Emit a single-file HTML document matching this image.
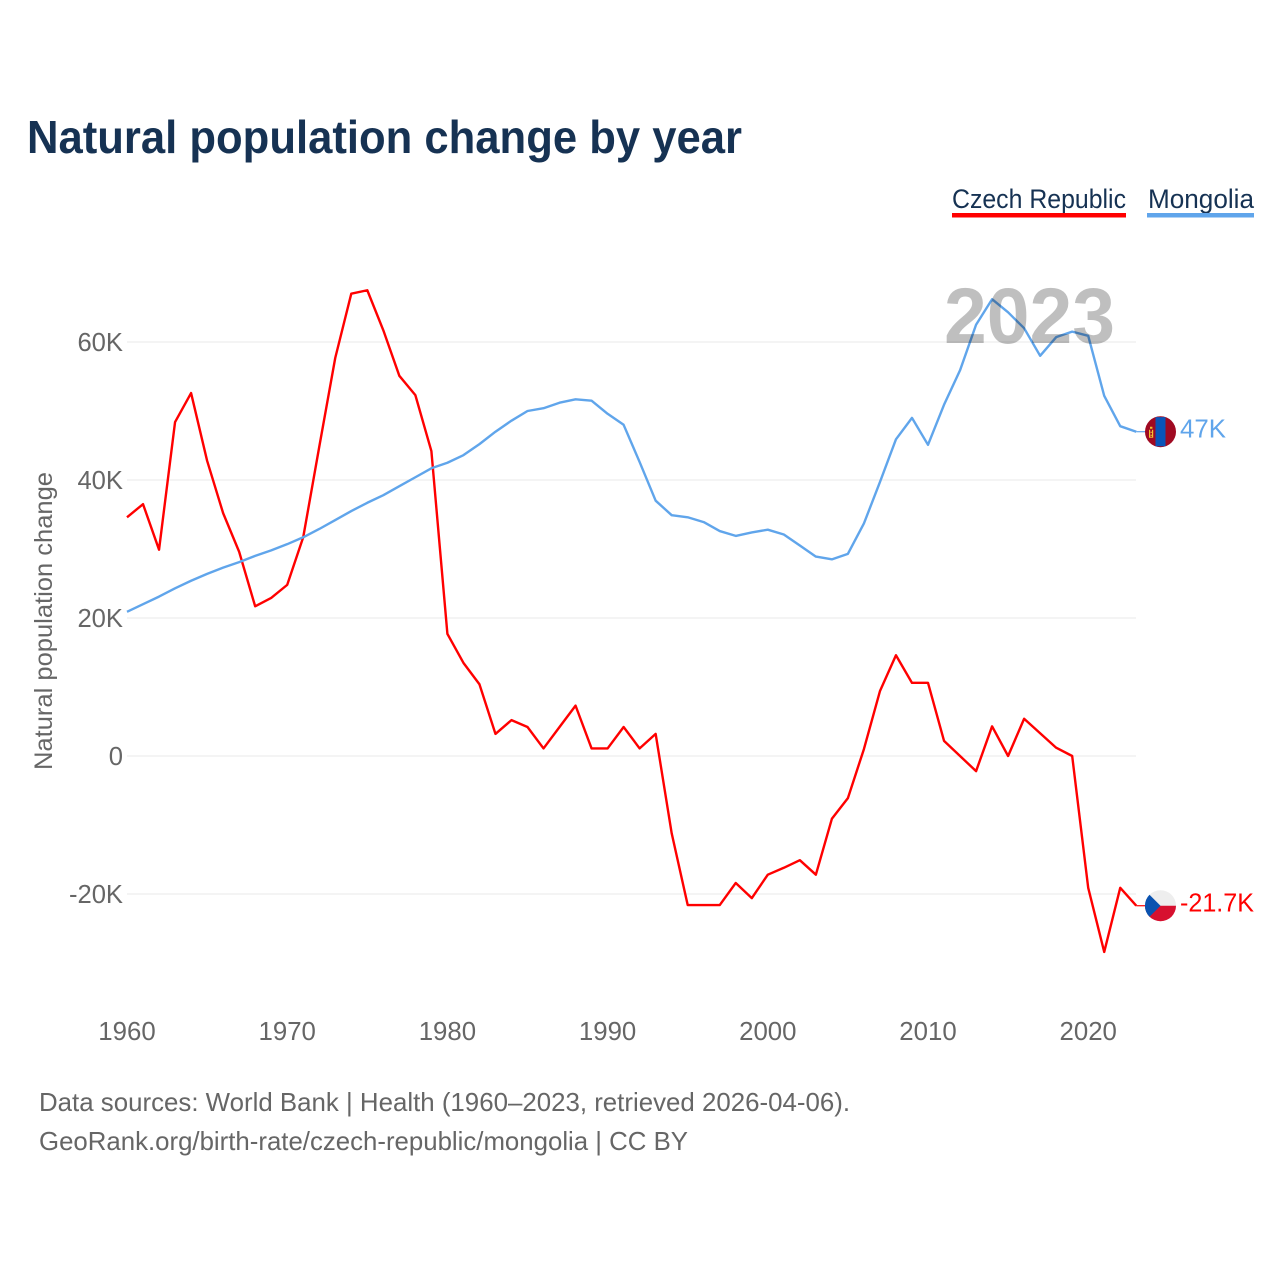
<!DOCTYPE html>
<html lang="en">
<head>
<meta charset="utf-8">
<title>Natural population change by year</title>
<style>
html,body{margin:0;padding:0;background:#fff;}
svg{display:block;font-family:"Liberation Sans",sans-serif;}
</style>
</head>
<body>
<svg id="chart" xmlns="http://www.w3.org/2000/svg" width="1280" height="1280" viewBox="0 0 1280 1280">
  <rect width="1280" height="1280" fill="#fff"/>
  <text x="27" y="153" font-size="46" font-weight="700" fill="#163253" textLength="715" lengthAdjust="spacingAndGlyphs">Natural population change by year</text>
  <g>
    <g>
      <text x="952" y="208" font-size="27" fill="#163253" textLength="174" lengthAdjust="spacingAndGlyphs">Czech Republic</text>
      <rect x="952" y="213" width="174" height="4.5" fill="#ff0000"/>
    </g>
    <g>
      <text x="1148" y="208" font-size="27" fill="#163253" textLength="106" lengthAdjust="spacingAndGlyphs">Mongolia</text>
      <rect x="1147" y="213" width="107" height="4.5" fill="#60a5eb"/>
    </g>
  </g>
  <g id="grid"></g>
  <g id="yAxis"></g>
  <g id="xAxis"></g>
  <text transform="translate(52,621) rotate(-90)" text-anchor="middle" font-size="25" fill="#666" textLength="298" lengthAdjust="spacingAndGlyphs">Natural population change</text>
  <g id="series"></g>
  <text x="944" y="343" font-size="79" font-weight="700" fill="#000" fill-opacity="0.25" textLength="171" lengthAdjust="spacingAndGlyphs">2023</text>
  <g id="ends"></g>
  <g>
    <text x="39" y="1111" font-size="26" fill="#666" textLength="811" lengthAdjust="spacingAndGlyphs">Data sources: World Bank | Health (1960–2023, retrieved 2026-04-06).</text>
    <text x="39" y="1150" font-size="26" fill="#666" textLength="649" lengthAdjust="spacingAndGlyphs">GeoRank.org/birth-rate/czech-republic/mongolia | CC BY</text>
  </g>
</svg>
<script>
const startYear = 1960;
const xTickLabels = [1960, 1970, 1980, 1990, 2000, 2010, 2020];
const yTickLabels = [-20, 0, 20, 40, 60];
const czechValues = [34.6,36.5,29.9,48.4,52.6,42.8,35.2,29.6,21.7,22.9,
  24.8,31.7,44.8,57.7,67.0,67.5,61.7,55.1,52.3,44.2,
  17.7,13.5,10.4,3.2,5.2,4.2,1.1,4.2,7.3,1.1,
  1.1,4.2,1.1,3.2,-11.2,-21.6,-21.6,-21.6,-18.4,-20.6,
  -17.2,-16.2,-15.1,-17.2,-9.1,-6.1,1.0,9.4,14.6,10.6,
  10.6,2.2,0,-2.2,4.3,0,5.4,3.3,1.2,0,
  -19.1,-28.4,-19.1,-21.7];
const mongoliaValues = [20.9,22.0,23.1,24.3,25.4,26.4,27.3,28.1,29.0,29.8,
  30.7,31.7,32.9,34.2,35.5,36.7,37.8,39.1,40.4,41.7,
  42.5,43.6,45.2,47.0,48.6,50.0,50.4,51.2,51.7,51.5,
  49.6,48.0,42.6,37.0,34.9,34.6,33.9,32.6,31.9,32.4,
  32.8,32.1,30.5,28.9,28.5,29.3,33.7,39.7,45.9,49.0,
  45.1,50.9,55.9,62.5,66.2,64.3,62.0,58.0,60.7,61.5,
  60.9,52.2,47.8,47.0];

const NS = 'http://www.w3.org/2000/svg';
function xScale(year){ return 127 + (year - 1960) * 16.02; }
function yScale(v){ return 756 - v * 6.9; }
function make(tag, attrs, parent, text){
  const el = document.createElementNS(NS, tag);
  for (const k in attrs) el.setAttribute(k, attrs[k]);
  if (text !== undefined) el.textContent = text;
  parent.appendChild(el);
  return el;
}
function fmtK(v){ return v === 0 ? '0' : v + 'K'; }

const gridG = document.getElementById('grid');
const yG = document.getElementById('yAxis');
const xG = document.getElementById('xAxis');
const seriesG = document.getElementById('series');
const endsG = document.getElementById('ends');

yTickLabels.forEach(function(v){
  const line = make('line', {x1:127, x2:1136, y1:yScale(v), y2:yScale(v), stroke:'#e8e8e8', 'stroke-width':1}, gridG);
  
  
  const t = make('text', {x:123, y:yScale(v)+9, 'text-anchor':'end', 'font-size':25.6, fill:'#666'}, yG, fmtK(v));
  
  
});
xTickLabels.forEach(function(y){
  const t = make('text', {x:xScale(y), y:1040, 'text-anchor':'middle', 'font-size':25.8, fill:'#666'}, xG, String(y));
  
  
});

function linePath(values){
  return values.map(function(v, i){
    return (i ? 'L' : 'M') + xScale(startYear + i).toFixed(2) + ' ' + yScale(v).toFixed(2);
  }).join(' ');
}
const czechLine = make('path', {d:linePath(czechValues), fill:'none', stroke:'#ff0000', 'stroke-width':2.4, 'stroke-linejoin':'round'}, seriesG);


const mongoliaLine = make('path', {d:linePath(mongoliaValues), fill:'none', stroke:'#60a5eb', 'stroke-width':2.4, 'stroke-linejoin':'round'}, seriesG);



function endLabel(v){
  const r = Math.round(v * 10) / 10;
  return r + 'K';
}
const lastX = xScale(startYear + czechValues.length - 1);
const flagX = 1160.5;

/* Mongolia end marker */
const mY = yScale(mongoliaValues[mongoliaValues.length - 1]);
const mConn = make('line', {x1:lastX, x2:flagX-14, y1:mY, y2:mY, stroke:'#60a5eb', 'stroke-width':1.2}, endsG);


const mFlag = make('g', {transform:'translate(' + flagX + ',' + mY + ')'}, endsG);


make('circle', {r:15.5, fill:'#a00a22'}, mFlag);
make('path', {d:'M-5 -14.6 L5 -14.6 L5 14.6 L-5 14.6 Z', fill:'#0a55b8'}, mFlag);
make('path', {d:'M-11.5 -2 h1.2 v7 h-1.2 Z M-8.5 -2 h1.2 v7 h-1.2 Z M-10.5 -5 h2.4 v2 h-2.4 Z M-10 0 h1.6 v1 h-1.6 Z M-10 3 h1.6 v1 h-1.6 Z M-11.5 5 h4.2 v1 h-4.2 Z', fill:'#f2c230'}, mFlag);
const mLabel = make('text', {x:1180, y:mY+6, 'font-size':25.5, fill:'#60a5eb', textLength:46, lengthAdjust:'spacingAndGlyphs'}, endsG, endLabel(mongoliaValues[mongoliaValues.length - 1]));



/* Czech end marker */
const cY = yScale(czechValues[czechValues.length - 1]);
const cConn = make('line', {x1:lastX, x2:flagX-14, y1:cY, y2:cY, stroke:'#ff0000', 'stroke-width':1.2}, endsG);


const cFlag = make('g', {transform:'translate(' + flagX + ',' + cY + ')'}, endsG);


make('circle', {r:15.5, fill:'#eeeeee'}, cFlag);
make('path', {d:'M-15.5 0 A15.5 15.5 0 0 0 15.5 0 Z', fill:'#d7102f'}, cFlag);
make('path', {d:'M-11 -11 L0 0 L-11 11 A15.5 15.5 0 0 1 -11 -11 Z', fill:'#0a52b0'}, cFlag);
const cLabel = make('text', {x:1180, y:cY+6, 'font-size':25.5, fill:'#ff0000', textLength:74, lengthAdjust:'spacingAndGlyphs'}, endsG, endLabel(czechValues[czechValues.length - 1]));


</script>
</body>
</html>
